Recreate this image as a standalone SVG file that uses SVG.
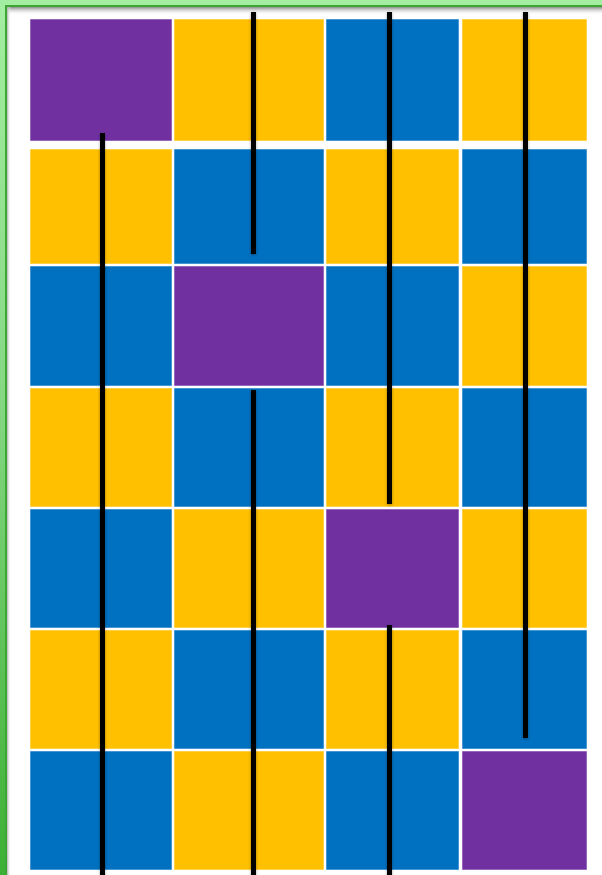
<svg xmlns="http://www.w3.org/2000/svg" width="602" height="875" viewBox="0 0 602 875">
<defs>
<linearGradient id="frameG" x1="0" y1="0" x2="0" y2="1">
<stop offset="0" stop-color="#a3eea0"/>
<stop offset="0.45" stop-color="#86d883"/>
<stop offset="1" stop-color="#3cb034"/>
</linearGradient>
<linearGradient id="topSh" x1="0" y1="0" x2="0" y2="1">
<stop offset="0" stop-color="#8c8c8c"/>
<stop offset="1" stop-color="#ffffff" stop-opacity="0"/>
</linearGradient>
<linearGradient id="leftSh" x1="0" y1="0" x2="1" y2="0">
<stop offset="0" stop-color="#b0b0b0"/>
<stop offset="1" stop-color="#ffffff" stop-opacity="0"/>
</linearGradient>
<filter id="sh" x="-100%" y="-5%" width="300%" height="110%">
<feDropShadow dx="0" dy="1" stdDeviation="1.5" flood-color="#000" flood-opacity="0.35"/>
</filter>
</defs>
<style>
.p{fill:#7030a0}
.y{fill:#ffc000}
.b{fill:#0070c0}
.c rect{stroke:#ffffff;stroke-opacity:0.55;stroke-width:1}
.ln{stroke:#000;stroke-width:5;fill:none}
</style>
<rect x="0" y="0" width="602" height="875" fill="url(#frameG)"/>
<rect x="5" y="5" width="602" height="875" fill="#3aa832"/>
<rect x="7" y="7" width="600" height="875" fill="#ffffff"/>
<rect x="7" y="7" width="600" height="8" fill="url(#topSh)"/>
<rect x="7" y="7" width="4" height="868" fill="url(#leftSh)"/>
<g class="c">
<g id="r1c1"><rect class="p" x="30" y="19" width="142" height="122"/></g>
<g id="r1c2"><rect class="y" x="174" y="19" width="150" height="122"/></g>
<g id="r1c3"><rect class="b" x="326" y="19" width="133" height="122"/></g>
<g id="r1c4"><rect class="y" x="462" y="19" width="125" height="122"/></g>
<g id="r2c1"><rect class="y" x="30" y="149" width="142" height="115"/></g>
<g id="r2c2"><rect class="b" x="174" y="149" width="150" height="115"/></g>
<g id="r2c3"><rect class="y" x="326" y="149" width="133" height="115"/></g>
<g id="r2c4"><rect class="b" x="462" y="149" width="125" height="115"/></g>
<g id="r3c1"><rect class="b" x="30" y="266" width="142" height="120"/></g>
<g id="r3c2"><rect class="p" x="174" y="266" width="150" height="120"/></g>
<g id="r3c3"><rect class="b" x="326" y="266" width="133" height="120"/></g>
<g id="r3c4"><rect class="y" x="462" y="266" width="125" height="120"/></g>
<g id="r4c1"><rect class="y" x="30" y="388" width="142" height="119"/></g>
<g id="r4c2"><rect class="b" x="174" y="388" width="150" height="119"/></g>
<g id="r4c3"><rect class="y" x="326" y="388" width="133" height="119"/></g>
<g id="r4c4"><rect class="b" x="462" y="388" width="125" height="119"/></g>
<g id="r5c1"><rect class="b" x="30" y="509" width="142" height="119"/></g>
<g id="r5c2"><rect class="y" x="174" y="509" width="150" height="119"/></g>
<g id="r5c3"><rect class="p" x="326" y="509" width="133" height="119"/></g>
<g id="r5c4"><rect class="y" x="462" y="509" width="125" height="119"/></g>
<g id="r6c1"><rect class="y" x="30" y="630" width="142" height="119"/></g>
<g id="r6c2"><rect class="b" x="174" y="630" width="150" height="119"/></g>
<g id="r6c3"><rect class="y" x="326" y="630" width="133" height="119"/></g>
<g id="r6c4"><rect class="b" x="462" y="630" width="125" height="119"/></g>
<g id="r7c1"><rect class="b" x="30" y="751" width="142" height="119"/></g>
<g id="r7c2"><rect class="y" x="174" y="751" width="150" height="119"/></g>
<g id="r7c3"><rect class="b" x="326" y="751" width="133" height="119"/></g>
<g id="r7c4"><rect class="p" x="462" y="751" width="125" height="119"/></g>
</g>
<g id="connectors" filter="url(#sh)">
<line class="ln" x1="102.5" y1="133" x2="102.5" y2="878"/>
<line class="ln" x1="253.5" y1="12" x2="253.5" y2="254"/>
<line class="ln" x1="253.5" y1="390" x2="253.5" y2="878"/>
<line class="ln" x1="389.5" y1="12" x2="389.5" y2="504"/>
<line class="ln" x1="389.5" y1="625" x2="389.5" y2="878"/>
<line class="ln" x1="525.5" y1="12" x2="525.5" y2="738"/>
</g>
</svg>
